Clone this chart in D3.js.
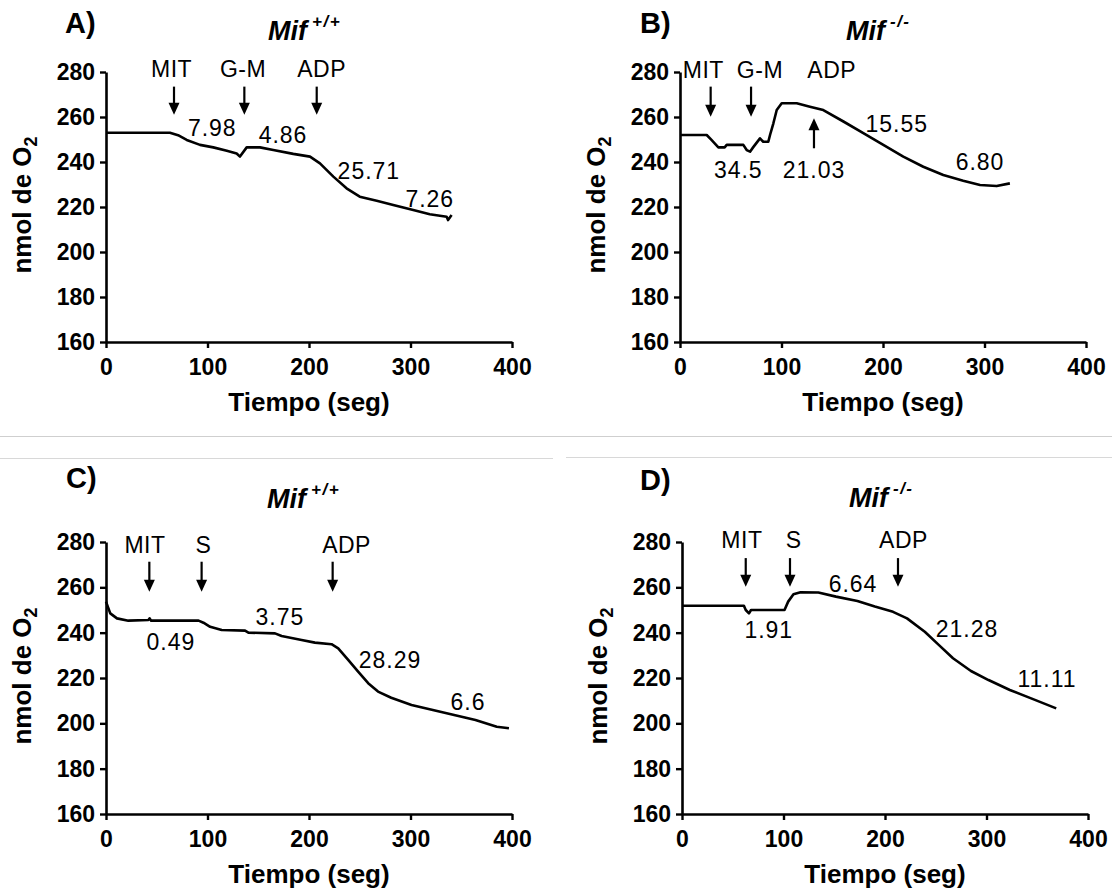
<!DOCTYPE html>
<html><head><meta charset="utf-8">
<script src="https://cdn.jsdelivr.net/npm/d3@7"></script>
<style>
html,body{margin:0;padding:0;background:#fff;}
svg{display:block;font-family:"Liberation Sans",Arial,sans-serif;}
</style></head>
<body>
<svg id="chart" width="1112" height="890"></svg>
<script>
// ---------- data ----------
const xTicks = [0, 100, 200, 300, 400];
const yTicks = [160, 180, 200, 220, 240, 260, 280];

const timeA = [0, 63, 71, 79.5, 92.6, 105.7, 119, 128.7, 132, 138.6, 151.7, 164.8, 184.5, 201, 210.8, 224, 237, 250, 266.7, 283, 302.7, 319, 335.6, 337, 340.5];
const o2A   = [253, 253, 251.9, 249.8, 247.6, 246.5, 245, 243.8, 242.4, 246.5, 246.5, 245.3, 243.6, 242.4, 239.4, 233.5, 228.3, 224.6, 222.8, 220.9, 218.7, 216.8, 215.7, 214.2, 216.4];

const timeB = [0, 26.3, 31, 37.8, 44, 46, 62.4, 65.7, 69, 72, 78.8, 82, 87, 88.7, 92, 95.3, 100.2, 115, 128, 141.2, 161, 180.6, 200.3, 220, 239.7, 259.4, 279, 295.6, 312, 325];
const o2B   = [252, 252, 249.8, 246.5, 246.5, 247.6, 247.6, 245.3, 244.6, 246.5, 250.5, 249, 249, 252, 257.2, 263.1, 266.1, 266.1, 264.6, 263.1, 258, 252.8, 247.6, 242.4, 237.9, 234.2, 231.7, 229.8, 229.3, 230.5];

const timeC = [0, 4.2, 10.8, 22, 41.8, 43, 44.5, 91.2, 96, 102.6, 114, 137, 140.3, 166.5, 173, 192.7, 205.8, 222.2, 228.8, 238.6, 248.4, 258.3, 268, 281, 301, 322, 343, 364, 385, 397];
const o2C   = [253.7, 248.5, 246.3, 245.3, 245.6, 246.3, 245.3, 245.3, 244.4, 242.6, 241.2, 240.9, 240, 239.7, 238.5, 236.8, 235.6, 234.9, 233.1, 228, 222.8, 217.7, 214, 211.3, 208.1, 205.9, 203.7, 201.5, 198.5, 197.8];

const timeD = [0, 61, 62.8, 66, 68, 101, 104.6, 109.8, 116.8, 134.3, 151.7, 172.8, 190, 207.9, 221.7, 239.2, 253.2, 267, 284.7, 302, 323, 344, 368.7];
const o2D   = [251.9, 251.9, 250, 248.5, 250, 250, 253.7, 256.9, 257.8, 257.7, 255.9, 254, 251.5, 249.2, 246.3, 240.4, 234.5, 228.7, 223.1, 219.1, 214.7, 211, 206.6];

// additions (label, label time, arrow time)
const addLabelsA = ["MIT", "G-M", "ADP"];
const addLabelTimeA = [64.6, 135, 212.5];
const addArrowTimeA = [67, 136.3, 207.6];
const addLabelsB = ["MIT", "G-M", "ADP"];
const addLabelTimeB = [23, 78.8, 149.5];
const addArrowTimeB = [30.2, 70];
const addLabelsC = ["MIT", "S", "ADP"];
const addLabelTimeC = [38.4, 95.9, 237];
const addArrowTimeC = [42.7, 94.2, 223.3];
const addLabelsD = ["MIT", "S", "ADP"];
const addLabelTimeD = [59, 110, 218.2];
const addArrowTimeD = [62.8, 106.4, 212.8];

// respiration rates (text, time, O2 at baseline)
const ratesA = ["7.98", "4.86", "25.71", "7.26"];
const rateTimeA = [104.7, 174.4, 259, 319];
const rateO2A = [251.6, 248.3, 232.3, 220.1];
const ratesB = ["34.5", "21.03", "15.55", "6.80"];
const rateTimeB = [57.4, 132, 213.5, 295.6];
const rateO2B = [232.8, 232.9, 253.5, 236.4];
const ratesC = ["0.49", "3.75", "28.29", "6.6"];
const rateTimeC = [64, 171.4, 279.8, 356.7];
const rateO2C = [232.4, 243.4, 224.3, 205.9];
const ratesD = ["1.91", "6.64", "21.28", "11.11"];
const rateTimeD = [85.5, 168.5, 280.8, 359.6];
const rateO2D = [237.6, 258.1, 238.2, 216.2];

// upward arrow in B (time, from O2, to O2)
const upArrowB = [132, 246.1, 259.4];

const panelLetters = ["A)", "B)", "C)", "D)"];
const genotypes = ["+/+", "-/-", "+/+", "-/-"];

// ---------- layout ----------
const FONT = '"Liberation Sans", Arial, sans-serif';
const panels = [
  {letter: panelLetters[0], geno: genotypes[0], left: 106, top: 72, bottom: 342,
   t: timeA, v: o2A, labels: addLabelsA, labelT: addLabelTimeA, arrowT: addArrowTimeA,
   labelV: 277.9, arrowFrom: 273.5, arrowTo: 261.0,
   rates: ratesA, rateT: rateTimeA, rateV: rateO2A,
   letterPos: [65, 33], titlePos: [268, 40], supDy: -13},
  {letter: panelLetters[1], geno: genotypes[1], left: 680, top: 72, bottom: 342,
   t: timeB, v: o2B, labels: addLabelsB, labelT: addLabelTimeB, arrowT: addArrowTimeB,
   labelV: 277.4, arrowFrom: 273.5, arrowTo: 260.1,
   rates: ratesB, rateT: rateTimeB, rateV: rateO2B, up: upArrowB,
   letterPos: [640, 33], titlePos: [846, 40], supDy: -13},
  {letter: panelLetters[2], geno: genotypes[2], left: 106, top: 542, bottom: 814,
   t: timeC, v: o2C, labels: addLabelsC, labelT: addLabelTimeC, arrowT: addArrowTimeC,
   labelV: 275.2, arrowFrom: 271.3, arrowTo: 258.1,
   rates: ratesC, rateT: rateTimeC, rateV: rateO2C,
   letterPos: [66, 488], titlePos: [267, 508], supDy: -13},
  {letter: panelLetters[3], geno: genotypes[3], left: 682, top: 542, bottom: 814,
   t: timeD, v: o2D, labels: addLabelsD, labelT: addLabelTimeD, arrowT: addArrowTimeD,
   labelV: 277.4, arrowFrom: 272.9, arrowTo: 260.3,
   rates: ratesD, rateT: rateTimeD, rateV: rateO2D,
   letterPos: [640, 490], titlePos: [849, 507], supDy: -13}
];
const plotW = 406;

const svg = d3.select("#chart");
svg.append("rect").attr("width", 1112).attr("height", 890).attr("fill", "#fff");

// separator lines
svg.append("line").attr("x1", 0).attr("x2", 1112).attr("y1", 436.5).attr("y2", 436.5)
  .attr("stroke", "#cfcfcf").attr("stroke-width", 1.2);
svg.append("line").attr("x1", 0).attr("x2", 553).attr("y1", 458.5).attr("y2", 458.5)
  .attr("stroke", "#d8d8d8").attr("stroke-width", 1.2);
svg.append("line").attr("x1", 566).attr("x2", 1112).attr("y1", 457.5).attr("y2", 457.5)
  .attr("stroke", "#d8d8d8").attr("stroke-width", 1.2);

function arrow(g, x, y1, y2) {
  const dir = y2 > y1 ? 1 : -1;
  const headL = 12, headW = 5.5;
  g.append("line").attr("x1", x).attr("x2", x).attr("y1", y1).attr("y2", y2 - dir * headL + dir)
    .attr("stroke", "#000").attr("stroke-width", 2.2);
  g.append("path")
    .attr("d", `M${x - headW},${y2 - dir * headL} L${x + headW},${y2 - dir * headL} L${x},${y2} Z`)
    .attr("fill", "#000");
}

panels.forEach(p => {
  const x = d3.scaleLinear().domain([0, 400]).range([p.left, p.left + plotW]);
  const y = d3.scaleLinear().domain([160, 280]).range([p.bottom, p.top]);
  const g = svg.append("g");

  const xAxis = d3.axisBottom(x).tickValues(xTicks).tickSize(6).tickPadding(11).tickSizeOuter(0);
  const yAxis = d3.axisLeft(y).tickValues(yTicks).tickSize(6).tickPadding(5).tickSizeOuter(0);
  const gx = g.append("g").attr("transform", `translate(0,${p.bottom})`).call(xAxis);
  const gy = g.append("g").attr("transform", `translate(${p.left},0)`).call(yAxis);
  [gx, gy].forEach(a => {
    a.select(".domain").attr("stroke", "#000").attr("stroke-width", 2.6);
    a.selectAll(".tick line").attr("stroke", "#000").attr("stroke-width", 2.4);
    a.selectAll(".tick text").attr("fill", "#000").style("font-family", FONT)
      .style("font-weight", "bold").style("font-size", "23px");
  });

  g.append("text").attr("x", p.left + plotW / 2).attr("y", p.bottom + 69)
    .attr("text-anchor", "middle").style("font-family", FONT).style("font-weight", "bold")
    .style("font-size", "26px").text("Tiempo (seg)");
  const yl = g.append("text")
    .attr("transform", `translate(${p.left - 75},${(p.top + p.bottom) / 2 - 2}) rotate(-90)`)
    .attr("text-anchor", "middle").style("font-family", FONT).style("font-weight", "bold")
    .style("font-size", "26px");
  yl.append("tspan").text("nmol de O");
  yl.append("tspan").attr("dy", 6).style("font-size", "18px").text("2");

  g.append("text").attr("x", p.letterPos[0]).attr("y", p.letterPos[1])
    .style("font-family", FONT).style("font-weight", "bold").style("font-size", "29px")
    .text(p.letter);
  const tt = g.append("text").attr("x", p.titlePos[0]).attr("y", p.titlePos[1])
    .style("font-family", FONT).style("font-weight", "bold").style("font-style", "italic")
    .style("font-size", "27px");
  tt.append("tspan").text("Mif");
  tt.append("tspan").attr("dx", 5).attr("dy", p.supDy).style("font-size", "17px")
    .style("letter-spacing", "1.5px").text(p.geno);

  const pts = p.t.map((t, i) => [t, p.v[i]]);
  g.append("path").datum(pts)
    .attr("d", d3.line().x(d => x(d[0])).y(d => y(d[1])))
    .attr("fill", "none").attr("stroke", "#000").attr("stroke-width", 2.6)
    .attr("stroke-linejoin", "round");

  p.labels.forEach((lab, i) => {
    g.append("text").attr("x", x(p.labelT[i])).attr("y", y(p.labelV))
      .attr("text-anchor", "middle").style("font-family", FONT).style("font-size", "23px")
      .style("letter-spacing", "0.5px").text(lab);
  });
  p.arrowT.forEach(t => arrow(g, x(t), y(p.arrowFrom), y(p.arrowTo)));
  if (p.up) arrow(g, x(p.up[0]), y(p.up[1]), y(p.up[2]));

  p.rates.forEach((r, i) => {
    g.append("text").attr("x", x(p.rateT[i])).attr("y", y(p.rateV[i]))
      .attr("text-anchor", "middle").style("font-family", FONT).style("font-size", "23px")
      .style("letter-spacing", "1px").text(r);
  });
});
</script>
</body></html>
